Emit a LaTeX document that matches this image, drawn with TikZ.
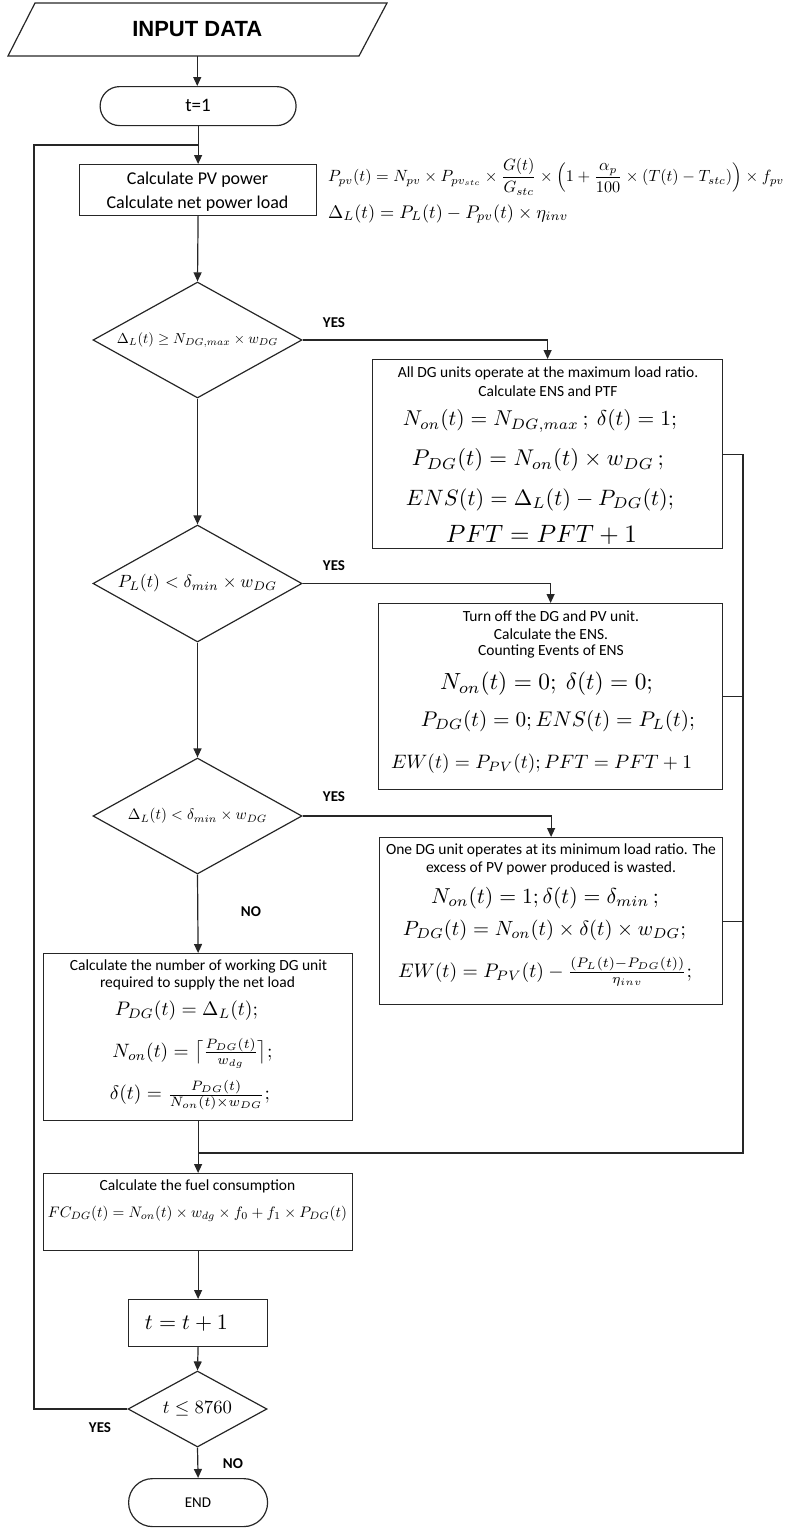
\documentclass[tikz,border=0pt]{standalone}
\usepackage[no-math]{fontspec}
\usepackage{amsmath}
\usepackage{graphicx}
\setmainfont{Carlito}
\newfontfamily\headfont{Liberation Sans}
\usetikzlibrary{arrows.meta,shapes.geometric}

% scale a piece of content to a given width
\newcommand{\fitw}[2]{\resizebox{#1}{!}{#2}}

\tikzset{
  line/.style={line width=1.2pt, draw=black!85},
  arr/.style={line, -{Triangle[length=9pt,width=8pt]}},
  box/.style={rectangle, draw=black!85, line width=1.2pt, inner sep=0pt, anchor=north west},
  stadium/.style={box, rounded corners=#1},
  decision/.style={diamond, draw=black!85, line width=1.2pt, inner sep=0pt, aspect=1.8},
  body/.style={inner sep=0pt, font=\fontsize{15.5}{18}\selectfont},
  bodybig/.style={inner sep=0pt, font=\fontsize{18}{21}\selectfont},
  tag/.style={inner sep=0pt, font=\fontsize{15}{18}\selectfont\bfseries},
  eq/.style={inner sep=0pt},
}

\begin{document}
\begin{tikzpicture}[x=1pt,y=-1pt]
\useasboundingbox (0,0) rectangle (788,1529);

% ---------- start ----------
\node[inner sep=0pt, minimum width=324pt, minimum height=53pt] (input) at (197.25,29.5)
  {\headfont\bfseries\fontsize{22}{24}\selectfont INPUT DATA};
\draw[line] (35,3) -- (387,3) -- (359,56) -- (8,56) -- cycle;

\node[stadium=19.5pt, minimum width=196pt, minimum height=39pt] (start) at (99.5,86) {};
\node[inner sep=0pt, font=\fontsize{19}{22}\selectfont] (starttxt) at (198,105) {t=1};

% ---------- PV and net load ----------
\node[box, minimum width=237pt, minimum height=51pt] (pv) at (79,164) {};
\node[bodybig] (pv1) at (197.5,180) {Calculate PV power};
\node[bodybig] (pv2) at (197.5,204) {Calculate net power load};

\node[eq, anchor=west] (eqpv) at (328,177) {\fitw{456pt}{$\displaystyle P_{pv}(t) = N_{pv} \times P_{pv_{stc}} \times \frac{G(t)}{G_{stc}} \times \left(1 + \frac{\alpha_p}{100} \times (T(t) - T_{stc})\right) \times f_{pv}$}};
\node[eq, anchor=west] (eqdl) at (328,214) {\fitw{240pt}{$\Delta_L(t) = P_L(t) - P_{pv}(t) \times \eta_{inv}$}};

% ---------- decisions ----------
\node[decision, minimum width=209pt, minimum height=116pt] (d1) at (197.5,340)
  {\fitw{161pt}{$\Delta_L(t) \ge N_{DG,max} \times w_{DG}$}};
\node[decision, minimum width=209pt, minimum height=117pt] (d2) at (197.5,583.5)
  {\fitw{159pt}{$P_L(t) < \delta_{min} \times w_{DG}$}};
\node[decision, minimum width=209pt, minimum height=116pt] (d3) at (197.5,816)
  {\fitw{139pt}{$\Delta_L(t) < \delta_{min} \times w_{DG}$}};

% ---------- box A ----------
\node[box, minimum width=350pt, minimum height=189pt] (boxA) at (372,359) {};
\node[body] (a1) at (548,373) {All DG units operate at the maximum load ratio.};
\node[body] (a2) at (548,391) {Calculate ENS and PTF};
\node[eq] (a3) at (540,421) {\fitw{274pt}{$N_{on}(t) = N_{DG,max}\,;\ \delta(t) = 1;$}};
\node[eq] (a4) at (538,460) {\fitw{252pt}{$P_{DG}(t) = N_{on}(t) \times w_{DG}\,;$}};
\node[eq] (a5) at (540,500) {\fitw{268pt}{$ENS(t) = \Delta_L(t) - P_{DG}(t);$}};
\node[eq] (a6) at (541.5,535) {\fitw{191pt}{$PFT = PFT + 1$}};

% ---------- box B ----------
\node[box, minimum width=344pt, minimum height=186pt] (boxB) at (378,603) {};
\node[body] (b1) at (551,616) {Turn off the DG and PV unit.};
\node[body] (b2) at (551,634) {Calculate the ENS.};
\node[body] (b3) at (551,651) {Counting Events of ENS};
\node[eq] (b4) at (546.5,684) {\fitw{213pt}{$N_{on}(t) = 0;\ \delta(t) = 0;$}};
\node[eq] (b5) at (558,721) {\fitw{274pt}{$P_{DG}(t) = 0; ENS(t) = P_L(t);$}};
\node[eq] (b6) at (541.5,764) {\fitw{301pt}{$EW(t) = P_{PV}(t); PFT = PFT + 1$}};

% ---------- box C ----------
\node[box, minimum width=343pt, minimum height=167pt] (boxC) at (379,837) {};
\node[body] (c1) at (551,850) {One DG unit operates at its minimum load ratio. The};
\node[body] (c2) at (551,868) {excess of PV power produced is wasted.};
\node[eq] (c3) at (545,898) {\fitw{228pt}{$N_{on}(t) = 1; \delta(t) = \delta_{min}\,;$}};
\node[eq] (c4) at (544.5,930) {\fitw{283pt}{$P_{DG}(t) = N_{on}(t) \times \delta(t) \times w_{DG};$}};
\node[eq] (c5) at (545,972) {\fitw{294pt}{$EW(t) = P_{PV}(t) - \tfrac{(P_L(t) - P_{DG}(t))}{\eta_{inv}};$}};

% ---------- box D ----------
\node[box, minimum width=309pt, minimum height=167pt] (boxD) at (43,953) {};
\node[body] (e1) at (198.5,966) {Calculate the number of working DG unit};
\node[body] (e2) at (197.5,983) {required to supply the net load};
\node[eq] (e3) at (186.5,1011) {\fitw{143pt}{$P_{DG}(t) = \Delta_L(t);$}};
\node[eq] (e4) at (192.5,1053) {\fitw{160pt}{$N_{on}(t) = \bigl\lceil \tfrac{P_{DG}(t)}{w_{dg}} \bigr\rceil;$}};
\node[eq] (e5) at (190,1095) {\fitw{160pt}{$\delta(t) = \tfrac{P_{DG}(t)}{N_{on}(t) \times w_{DG}};$}};

% ---------- fuel ----------
\node[box, minimum width=309pt, minimum height=77pt] (fuel) at (43,1173) {};
\node[body] (f1) at (197.5,1186) {Calculate the fuel consumption};
\node[eq] (f2) at (197.5,1214) {\fitw{299pt}{$FC_{DG}(t) = N_{on}(t) \times w_{dg} \times f_0 + f_1 \times P_{DG}(t)$}};

% ---------- time step and end ----------
\node[box, minimum width=139pt, minimum height=47pt] (inc) at (128,1299) {};
\node[eq] (inctxt) at (186.5,1323) {\fitw{83pt}{$t = t + 1$}};
\node[decision, minimum width=139pt, minimum height=76pt] (d4) at (197.5,1409)
  {\fitw{69pt}{$t \le 8760$}};
\node[stadium=24pt, minimum width=139pt, minimum height=48pt] (stop) at (128,1478) {};
\node[inner sep=0pt, font=\fontsize{15}{18}\selectfont] (stoptxt) at (198,1503) {END};

% ---------- labels ----------
\node[tag] (y1) at (334,323) {YES};
\node[tag] (y2) at (334,566) {YES};
\node[tag] (y3) at (334,797) {YES};
\node[tag] (n3) at (251,912) {NO};
\node[tag] (y4) at (100,1428) {YES};
\node[tag] (n4) at (233,1464) {NO};

% ---------- helper coordinates ----------
\coordinate (loopT) at (34,145);
\coordinate (join) at (197.5,145);
\coordinate (rail) at (743,1153);

% ---------- connectors ----------
\draw[arr] (input.south) -- (input.south |- start.north);
\draw[arr] (start.south) -- (pv.north);
\draw[arr] (pv.south) -- (d1.north);
\draw[arr] (d1.south) -- (d2.north);
\draw[arr] (d2.south) -- (d3.north);
\draw[arr] (d3.south) -- (boxD.north);
\draw[arr] (boxD.south) -- (fuel.north);
\draw[arr] (fuel.south) -- (inc.north);
\draw[arr] (inc.south) -- (d4.north);
\draw[arr] (d4.south) -- (stop.north);

\draw[arr] (d1.east) -| (boxA.north);
\draw[arr] (d2.east) -| (boxB.north);
\draw[arr] (d3.east) -| (boxC.north);

\draw[line] (boxA.east) -| (rail) -- (boxD.south |- rail);
\draw[line] (boxB.east) -- (boxB.east -| rail);
\draw[line] (boxC.east) -- (boxC.east -| rail);

\draw[line] (d4.west) -| (loopT) -- (join);
\end{tikzpicture}
\end{document}
